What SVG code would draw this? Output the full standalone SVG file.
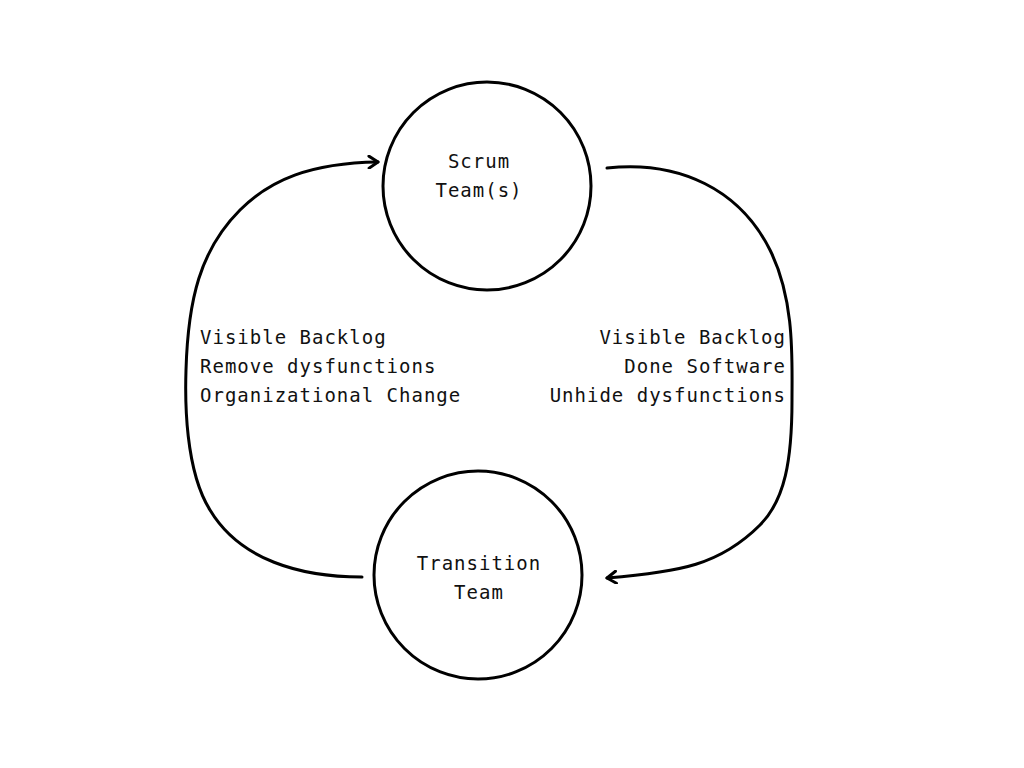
<svg xmlns="http://www.w3.org/2000/svg" width="1024" height="768" viewBox="0 0 1024 768">
<style>
.node{fill:#fff;stroke:#000;stroke-width:3}
.lbl{font-family:"DejaVu Sans Mono","Liberation Mono",monospace;font-size:19px;letter-spacing:1px;fill:#111}
.edge{fill:none;stroke:#000;stroke-width:3;stroke-linecap:round;stroke-linejoin:round}
</style>
<defs>
<marker id="arr" markerWidth="14" markerHeight="14" refX="11" refY="7" orient="auto" markerUnits="userSpaceOnUse">
<path d="M2,1 L11,7 L2,13" fill="none" stroke="#000" stroke-width="3" stroke-linecap="round" stroke-linejoin="round"/>
</marker>
</defs>
<rect width="1024" height="768" fill="#fff"/>
<g id="connectors">
<path class="edge" d="M362,577 C300,577 240,560 210,510 C185,470 185,400 186,370 C188,300 200,250 240,210 C270,180 310,163 378,162" marker-end="url(#arr)"/>
<path class="edge" d="M607,168 C680,160 740,190 770,250 C795,300 792,360 792,400 C792,460 785,500 760,525 C720,565 680,572 607,578" marker-end="url(#arr)"/>
</g>
<g id="scrum-team">
<circle class="node" cx="487" cy="186" r="104"/>
<text class="lbl" x="479" y="168" text-anchor="middle">Scrum</text>
<text class="lbl" x="479" y="197" text-anchor="middle">Team(s)</text>
</g>
<g id="transition-team">
<circle class="node" cx="478" cy="575" r="104"/>
<text class="lbl" x="479" y="570" text-anchor="middle">Transition</text>
<text class="lbl" x="479" y="599" text-anchor="middle">Team</text>
</g>
<g id="left-label">
<text class="lbl" x="200" y="344">Visible Backlog</text>
<text class="lbl" x="200" y="373">Remove dysfunctions</text>
<text class="lbl" x="200" y="402">Organizational Change</text>
</g>
<g id="right-label">
<text class="lbl" x="786" y="344" text-anchor="end">Visible Backlog</text>
<text class="lbl" x="786" y="373" text-anchor="end">Done Software</text>
<text class="lbl" x="786" y="402" text-anchor="end">Unhide dysfunctions</text>
</g>
</svg>
